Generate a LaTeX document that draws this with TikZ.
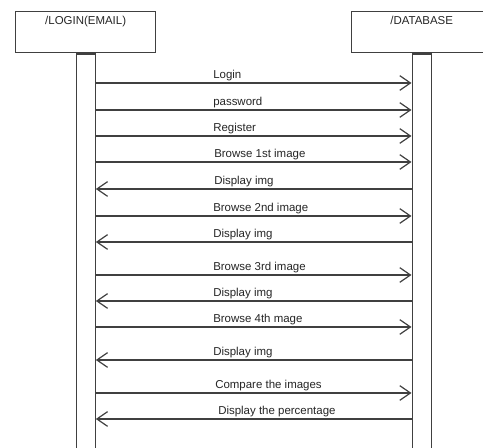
\documentclass[tikz,border=0pt]{standalone}
\usepackage{fontspec}
\setmainfont{Liberation Sans}
\usetikzlibrary{arrows.meta}
\tikzset{>={Straight Barb[length=8pt,width=11pt]},every node/.style={font=\fontsize{8.6}{10}\selectfont,text=black!85},
obj/.style={draw=black!75,line width=1pt,minimum width=105pt,minimum height=30.75pt,inner sep=0pt},
bar/.style={draw=black!75,line width=1pt,minimum width=14.25pt,minimum height=320pt,inner sep=0pt},
msg/.style={draw=black!75,line width=.9pt},
lbl/.style={anchor=base west,inner sep=0pt}}

\begin{document}
\begin{tikzpicture}[x=.75pt,y=-.75pt]
\clip (0,0) rectangle (483,448);
\fill[white] (0,0) rectangle (483,448);
% Les deux objets et leurs barres d'activation.
\node[obj,anchor=north west] (login) at (15,11) {};
\node[obj,anchor=north west] (db) at (351,11) {};
\node[anchor=north] (logint) at ([yshift=-.5pt]login.north) {/LOGIN(EMAIL)};
\node[anchor=north] (dbt) at ([yshift=-.5pt]db.north) {/DATABASE};
\node[bar,anchor=north] (lbar) at (login.south) {};
\node[bar,anchor=north] (rbar) at (db.south) {};
% Messages
\foreach \y/\x/\txt/\dir [count=\i] in {83/213/Login/->,110/213/password/->,136/213/Register/->,162/214/Browse 1st image/->,189/214/Display img/<-,216/213/Browse 2nd image/->,242/213/Display img/<-,275/213/Browse 3rd image/->,301/213/Display img/<-,327/213/Browse 4th mage/->,360/213/Display img/<-,393/215/Compare the  images/->,419/218/Display the percentage/<-}{
\coordinate (a\i) at (lbar.east |- 0,\y);
\coordinate (b\i) at (rbar.west |- 0,\y);
\draw[msg,\dir] (a\i)--(b\i);
\node[lbl] (t\i) at (\x,\y-4) {\txt};}
\end{tikzpicture}
\end{document}
